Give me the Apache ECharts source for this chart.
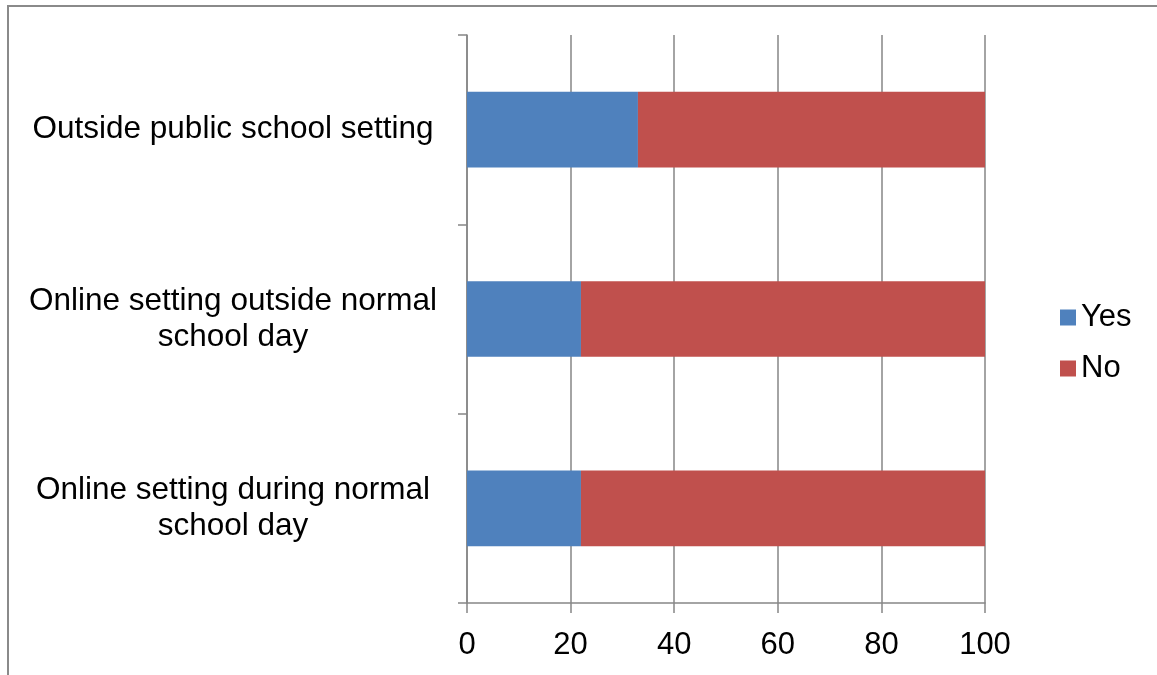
<!DOCTYPE html>
<html>
<head>
<meta charset="utf-8">
<script src="https://cdn.jsdelivr.net/npm/echarts@6/dist/echarts.min.js"></script>
<style>
html,body{margin:0;padding:0;background:#fff;}
#chart{width:1157px;height:675px;}
</style>
</head>
<body>
<div id="chart"></div>
<script>
const categories = [
  "Outside public school setting",
  "Online setting outside normal\nschool day",
  "Online setting during normal\nschool day"
];
const yesValues = [33, 22, 22];
const noValues = [67, 78, 78];
const xTicks = { min: 0, max: 100, interval: 20 };

const FONT = '"Liberation Sans", Arial, sans-serif';
const chart = echarts.init(document.getElementById('chart'), null, { renderer: 'canvas' });
chart.setOption({
  animation: false,
  backgroundColor: '#ffffff',
  graphic: [{
    type: 'rect',
    shape: { x: 8, y: 6, width: 1200, height: 720 },
    style: { fill: 'none', stroke: '#8a8a8a', lineWidth: 2 },
    silent: true
  }],
  grid: { left: 467, right: 172, top: 35, bottom: 72, containLabel: false },
  legend: {
    orient: 'vertical',
    left: 1055,
    top: 297,
    itemWidth: 16,
    itemHeight: 16,
    itemGap: 20,
    icon: 'rect',
    textStyle: { fontSize: 31, color: '#000', fontFamily: FONT },
    data: ['Yes', 'No']
  },
  xAxis: {
    type: 'value',
    min: xTicks.min,
    max: xTicks.max,
    interval: xTicks.interval,
    axisLine: { show: true, lineStyle: { color: '#868686', width: 1.5 } },
    axisTick: { show: true, length: 10, lineStyle: { color: '#868686', width: 1.5 } },
    splitLine: { show: true, lineStyle: { color: '#868686', width: 1.5 } },
    axisLabel: { fontSize: 31, color: '#000', fontFamily: FONT, margin: 27 }
  },
  yAxis: {
    type: 'category',
    inverse: true,
    data: categories,
    axisLine: { show: true, lineStyle: { color: '#868686', width: 1.5 } },
    axisTick: { show: true, length: 9, lineStyle: { color: '#868686', width: 1.5 } },
    splitLine: { show: false },
    axisLabel: {
      fontSize: 31.5, color: '#000', fontFamily: FONT,
      align: 'center', margin: 234, lineHeight: 36
    }
  },
  series: [
    { name: 'Yes', type: 'bar', stack: 'total', data: yesValues, barWidth: '40%',
      itemStyle: { color: '#4F81BD' } },
    { name: 'No', type: 'bar', stack: 'total', data: noValues, barWidth: '40%',
      itemStyle: { color: '#C0504D' } }
  ]
});
</script>
</body>
</html>
